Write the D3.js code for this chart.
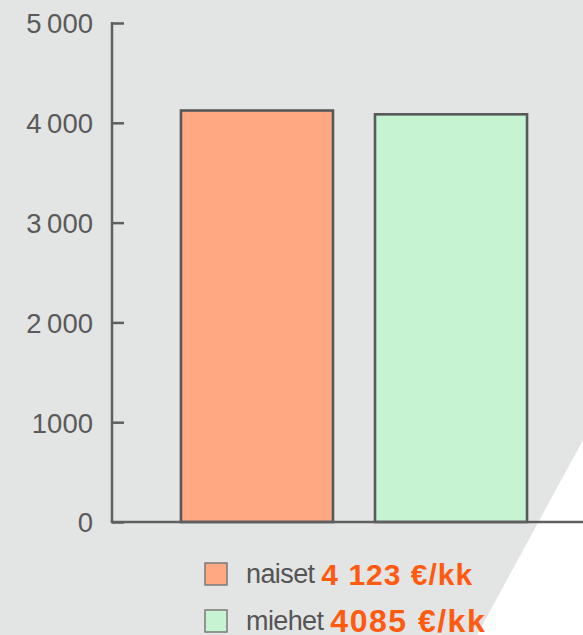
<!DOCTYPE html>
<html><head><meta charset="utf-8">
<script src="https://cdn.jsdelivr.net/npm/d3@7"></script>
<style>html,body{margin:0;padding:0;background:#e3e4e4;}svg{display:block;}</style>
</head><body>
<svg id="c" width="583" height="635"></svg>
<script>
const categories = ["naiset", "miehet"];
const values = [4123, 4085];
const valueLabels = ["4 123 €/kk", "4085 €/kk"];
const tickValues = [0, 1000, 2000, 3000, 4000, 5000];
const tickLabels = ["0", "1000", "2\u2009000", "3\u2009000", "4\u2009000", "5\u2009000"];
const colors = ["#ffa882", "#c6f4d3"];

const W = 583, H = 635;
const svg = d3.select("#c");
svg.append("rect").attr("width", W).attr("height", H).attr("fill", "#e3e4e4");
svg.append("polygon").attr("points", "583,440 477,635 583,635").attr("fill", "#ffffff");

const y = d3.scaleLinear().domain([0, 5000]).range([522, 23]);
const x = d3.scaleBand().domain(categories).range([160, 548]).paddingInner(0.2165).paddingOuter(0.108);
const axisX = 112;

// bars
svg.selectAll("rect.bar").data(categories).enter().append("rect")
  .attr("class", "bar")
  .attr("x", d => x(d))
  .attr("width", x.bandwidth())
  .attr("y", (d, i) => y(values[i]))
  .attr("height", (d, i) => y(0) - y(values[i]))
  .attr("fill", (d, i) => colors[i])
  .attr("stroke", "#585858").attr("stroke-width", 2.6);

// y axis
const yAxis = d3.axisRight(y).tickValues(tickValues).tickSize(12)
  .tickFormat((d, i) => tickLabels[i]);
const ga = svg.append("g").attr("transform", `translate(${axisX},0)`).call(yAxis);
ga.select(".domain").remove();
ga.selectAll(".tick line").attr("stroke", "#5f5f5f").attr("stroke-width", 2.5);
ga.selectAll(".tick text")
  .attr("x", -19).attr("dy", "0.36em")
  .attr("text-anchor", "end")
  .attr("fill", "#5a5a5a")
  .style("font-family", "'Liberation Sans', Arial, sans-serif")
  .style("font-size", "27.5px");
svg.append("line").attr("x1", axisX).attr("x2", axisX).attr("y1", y(5000) - 1).attr("y2", y(0))
  .attr("stroke", "#5f5f5f").attr("stroke-width", 2.5);
svg.append("line").attr("x1", axisX - 1.25).attr("x2", W).attr("y1", y(0)).attr("y2", y(0))
  .attr("stroke", "#5f5f5f").attr("stroke-width", 2.5);

// legend
const legY = [563, 610];
const boldSize = [30, 32];
const boldLs = [1, 1.5];
const lg = svg.selectAll("g.leg").data(categories).enter().append("g").attr("class", "leg")
  .attr("transform", (d, i) => `translate(205,${legY[i]})`);
lg.append("rect").attr("width", 22).attr("height", 22)
  .attr("fill", (d, i) => colors[i]).attr("stroke", "#7a7a7a").attr("stroke-width", 1.5);
const t = lg.append("text").attr("x", 41).attr("y", 20)
  .style("font-family", "'Liberation Sans', Arial, sans-serif");
t.append("tspan").text(d => d + " ").attr("fill", "#555")
  .style("font-size", "27px").style("letter-spacing", "-0.6px");
t.append("tspan").text((d, i) => valueLabels[i]).attr("fill", "#ff5a0f")
  .style("font-size", (d, i) => boldSize[i] + "px").style("font-weight", "bold")
  .style("letter-spacing", (d, i) => boldLs[i] + "px")
  .attr("dy", 2);
</script>
</body></html>
